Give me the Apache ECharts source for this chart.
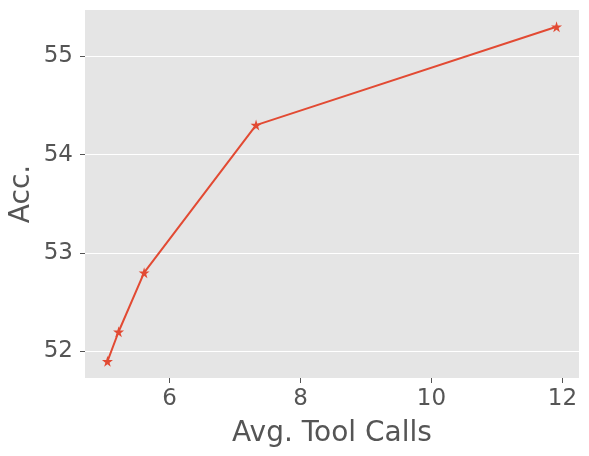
<!DOCTYPE html>
<html>
<head>
<meta charset="utf-8">
<script src="https://cdn.jsdelivr.net/npm/echarts@6/dist/echarts.min.js"></script>
<style>
  html, body { margin: 0; padding: 0; background: #fff; }
  #main { width: 589px; height: 456px; }
</style>
</head>
<body>
<div id="main"></div>
<script>
// data
var toolCalls = [5.05, 5.22, 5.61, 7.32, 11.91];
var acc = [51.9, 52.2, 52.8, 54.3, 55.3];
var xTicks = [6, 8, 10, 12];
var yTicks = [52, 53, 54, 55];

var chart = echarts.init(document.getElementById('main'));

var points = toolCalls.map(function (x, i) { return [x, acc[i]]; });

var star = 'path://M50,0 L61,35 L98,35 L68,57 L79,91 L50,70 L21,91 L32,57 L2,35 L39,35 Z';
var textColor = '#555555';

var option = {
  animation: false,
  backgroundColor: '#ffffff',
  grid: {
    left: 85,
    top: 10,
    right: 10,
    bottom: 78,
    outerBoundsMode: 'none',
    containLabel: false,
    show: true,
    backgroundColor: '#E5E5E5',
    borderWidth: 0
  },
  xAxis: {
    type: 'value',
    min: 4.707,
    max: 12.253,
    name: 'Avg. Tool Calls',
    nameLocation: 'middle',
    nameGap: 42,
    nameMoveOverlap: false,
    nameTextStyle: { fontFamily: 'DejaVu Sans', fontSize: 28, color: textColor },
    axisLine: { show: false },
    axisTick: {
      show: true, length: 5, customValues: xTicks,
      lineStyle: { color: textColor, width: 1 }
    },
    axisLabel: {
      customValues: xTicks, margin: 10,
      fontFamily: 'DejaVu Sans', fontSize: 23, color: textColor
    },
    splitLine: { show: false }
  },
  yAxis: {
    type: 'value',
    min: 51.73,
    max: 55.47,
    name: 'Acc.',
    nameLocation: 'middle',
    nameGap: 49,
    nameMoveOverlap: false,
    nameTextStyle: { fontFamily: 'DejaVu Sans', fontSize: 28, color: textColor },
    axisLine: { show: false },
    axisTick: {
      show: true, length: 5, customValues: yTicks,
      lineStyle: { color: textColor, width: 1 }
    },
    axisLabel: {
      customValues: yTicks, margin: 12,
      fontFamily: 'DejaVu Sans', fontSize: 23, color: textColor
    },
    splitLine: { show: true, lineStyle: { color: '#ffffff', width: 1 } }
  },
  series: [{
    type: 'line',
    data: points,
    symbol: star,
    symbolSize: 11,
    lineStyle: { color: '#E24A33', width: 2 },
    itemStyle: { color: '#E24A33' },
    z: 5
  }]
};

chart.setOption(option);
</script>
</body>
</html>
